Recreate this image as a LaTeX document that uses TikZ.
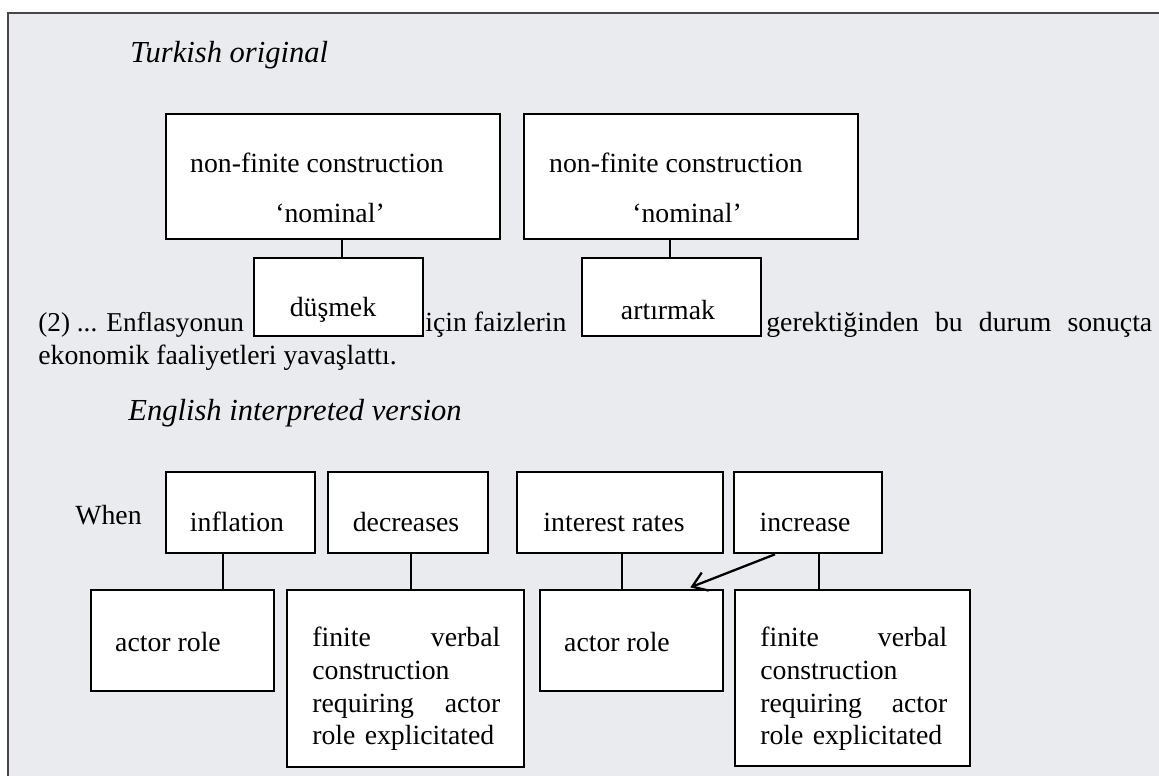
\documentclass[tikz,border=0pt]{standalone}
\usepackage{fontspec}
\setmainfont{Liberation Serif}
\usetikzlibrary{arrows.meta}

\definecolor{panelgray}{RGB}{233,235,238}
\definecolor{framegray}{RGB}{70,70,70}

\tikzset{
  txt/.style={inner sep=0pt, font=\fontsize{15.8}{18.6}\selectfont},
  heading/.style={inner sep=0pt, font=\fontsize{17.4}{20}\selectfont\itshape},
  wbox/.style={draw=black, fill=white, line width=1.5pt, inner sep=0pt},
  link/.style={black, line width=1.2pt},
}

\begin{document}
\begin{tikzpicture}[x=0.02cm, y=-0.02cm]
\useasboundingbox (0,0) rectangle (1159,776);

% panel
\fill[panelgray] (8,13) rectangle (1159,776);
\draw[framegray, line width=0.6pt] (8,776) -- (8,13) -- (1159,13);

% Turkish original
\node[heading, anchor=west] (trk) at (130,55) {Turkish original};

\node[wbox, minimum width=6.68cm, minimum height=2.5cm] (nfc1) at (333,176.5) {};
\node[txt] (nfc1a) at (317,163) {non-finite construction};
\node[txt] (nfc1b) at (330,213) {`nominal'};

\node[wbox, minimum width=6.68cm, minimum height=2.5cm] (nfc2) at (691,176.5) {};
\node[txt] (nfc2a) at (676,163) {non-finite construction};
\node[txt] (nfc2b) at (687,213) {`nominal'};

% sentence (2)
\node[txt, font=\fontsize{15.5}{18.6}\selectfont, anchor=base west] (s1a) at (38,332)
{(2) ... Enflasyonun};
\node[txt, anchor=base west] (s1b) at (425,332) {için faizlerin};
\node[txt, anchor=base west] (s1c) at (766,332)
{\makebox[7.72cm][s]{gerektiğinden bu durum sonuçta}};
\node[txt, anchor=base west] (s2) at (38,365) {ekonomik faaliyetleri yavaşlattı.};

\node[wbox, minimum width=3.38cm, minimum height=1.56cm] (dus) at (338.5,297) {};
\node[txt] (dusw) at (333,310) {düşmek};
\node[wbox, minimum width=3.58cm, minimum height=1.56cm] (art) at (671.5,297) {};
\node[txt] (artw) at (668,310) {artırmak};

\draw[link] (nfc1.south -| 342,0) -- (dus.north -| 342,0);
\draw[link] (nfc2.south -| 670,0) -- (art.north -| 670,0);

% English interpreted version
\node[heading, anchor=west] (eng) at (128,413) {English interpreted version};

\node[txt, anchor=west] (when) at (75,515) {When};

\node[wbox, minimum width=2.98cm, minimum height=1.62cm] (infl) at (240.5,512.5) {};
\node[txt] (inflw) at (237,522) {inflation};
\node[wbox, minimum width=3.2cm, minimum height=1.62cm] (decr) at (408,512.5) {};
\node[txt] (decrw) at (406,522) {decreases};
\node[wbox, minimum width=4.12cm, minimum height=1.62cm] (intr) at (620,512.5) {};
\node[txt] (intrw) at (614,522) {interest rates};
\node[wbox, minimum width=2.96cm, minimum height=1.62cm] (incr) at (808,512.5) {};
\node[txt] (incrw) at (805,522) {increase};

\node[wbox, minimum width=3.66cm, minimum height=2.02cm] (act1) at (182.5,640.5) {};
\node[txt] (act1w) at (168,642) {actor role};
\node[wbox, minimum width=4.74cm, minimum height=3.54cm] (fin1) at (405.5,678.5) {};
\node[txt, anchor=north west, text width=3.76cm, align=left] (fin1w) at (312,627)
{finite\hfill verbal\\construction\\requiring\hfill actor\\role explicitated};

\node[wbox, minimum width=3.66cm, minimum height=2.02cm] (act2) at (631.5,640.5) {};
\node[txt] (act2w) at (617,642) {actor role};
\node[wbox, minimum width=4.7cm, minimum height=3.52cm] (fin2) at (852.5,678) {};
\node[txt, anchor=north west, text width=3.74cm, align=left] (fin2w) at (760,627)
{finite\hfill verbal\\construction\\requiring\hfill actor\\role explicitated};

\draw[link] (infl.south -| 223,0) -- (act1.north -| 223,0);
\draw[link] (decr.south -| 411,0) -- (fin1.north -| 411,0);
\draw[link] (intr.south -| 622,0) -- (act2.north -| 622,0);
\draw[link] (incr.south -| 819,0) -- (fin2.north -| 819,0);

\draw[link, line width=1.3pt, -{Straight Barb[length=8pt, width=11pt]}, shorten >=2pt]
(incr.south -| 775,0) -- (act2.north -| 687,0);

\end{tikzpicture}
\end{document}
